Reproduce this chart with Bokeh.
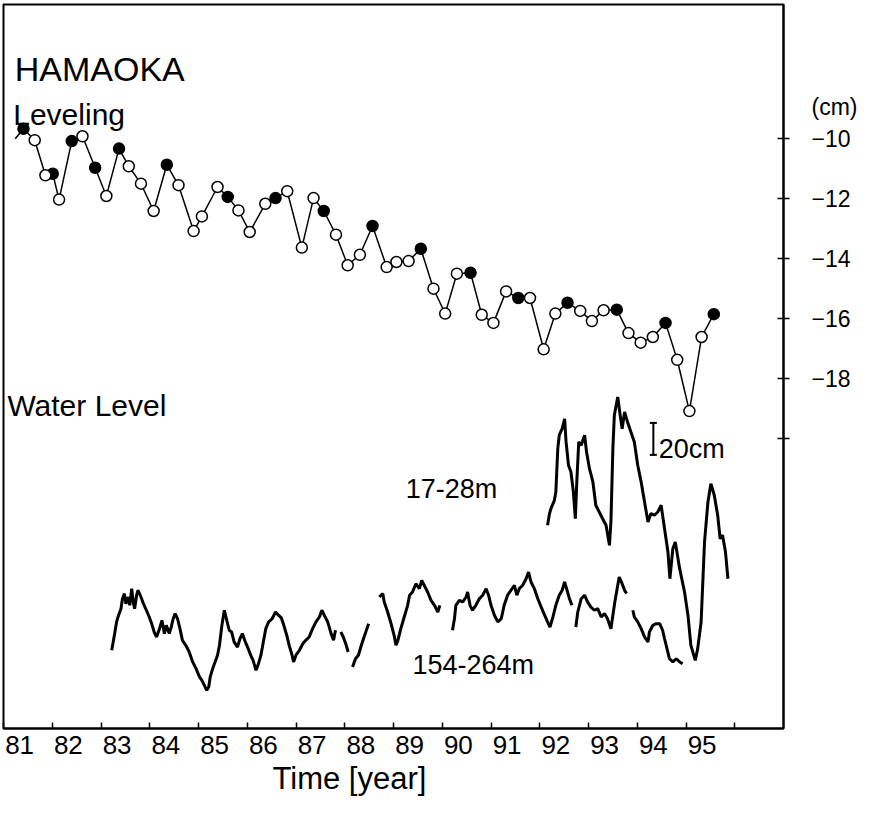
import numpy as np
from bokeh.plotting import figure
from bokeh.models import Range1d, LinearAxis, FixedTicker, Label, Title, CustomJSTickFormatter
from bokeh.embed import file_html
from bokeh.resources import INLINE

# ---------------- data ----------------
year_ticks = list(range(81, 97))          # tick marks (start of each year)
year_labels = list(range(81, 96))         # labelled years
label_shift = 0.33                        # labels sit just right of their tick
cm_ticks = [-10, -12, -14, -16, -18, -20]
cm_tick_text = ["\u221210", "\u221212", "\u221214", "\u221216", "\u221218", ""]
unit_pos = -8.93                          # where "(cm)" sits on the right axis
unit_text = "(cm)"

# Leveling (cm); first entry is the line's lead-in without marker
lev_year = [81.24, 81.41, 81.64, 81.86, 82.01, 82.14, 82.40, 82.62, 82.88, 83.11,
            83.37, 83.57, 83.82, 84.08, 84.35, 84.59, 84.90, 85.07, 85.39, 85.60,
            85.82, 86.05, 86.37, 86.58, 86.82, 87.12, 87.36, 87.57, 87.82, 88.06,
            88.31, 88.57, 88.86, 89.06, 89.31, 89.56, 89.82, 90.06, 90.30, 90.58,
            90.81, 91.05, 91.31, 91.56, 91.80, 92.08, 92.32, 92.57, 92.83, 93.07,
            93.31, 93.58, 93.82, 94.07, 94.32, 94.58, 94.82, 95.07, 95.32, 95.57]
lev_cm = [-9.99, -9.66, -10.04, -11.21, -11.16, -12.02, -10.07, -9.91, -10.96, -11.90,
          -10.32, -10.91, -11.49, -12.40, -10.86, -11.54, -13.07, -12.58, -11.60, -11.93,
          -12.38, -13.10, -12.16, -11.97, -11.74, -13.62, -11.97, -12.40, -13.19, -14.21,
          -13.86, -12.90, -14.27, -14.10, -14.07, -13.66, -14.99, -15.82, -14.49, -14.46,
          -15.86, -16.13, -15.08, -15.30, -15.30, -17.01, -15.82, -15.46, -15.73, -16.07,
          -15.71, -15.69, -16.47, -16.79, -16.60, -16.13, -17.36, -19.07, -16.60, -15.84]
# 0 = lead-in (no marker), 1 = filled circle, 2 = open circle
lev_kind = [0, 1, 2, 2, 1, 2, 1, 2, 1, 2,
            1, 2, 2, 2, 1, 2, 2, 2, 2, 1,
            2, 2, 2, 1, 2, 2, 2, 1, 2, 2,
            2, 1, 2, 2, 2, 1, 2, 2, 2, 1,
            2, 2, 2, 1, 2, 2, 2, 1, 2, 2,
            2, 1, 2, 2, 2, 1, 2, 2, 2, 1]

# Water level, well 154-264m (cm, relative datum); None = gap in record
deep_year = [83.22, 83.25, 83.28, 83.32, 83.36, 83.41, 83.44, 83.48, 83.51, 83.56,
             83.59, 83.63, 83.66, 83.69, 83.73, 83.76, 83.82, 83.87, 83.93, 83.99,
             84.04, 84.09, 84.14, 84.20, 84.25, 84.30, 84.34, 84.40, 84.44, 84.48,
             84.52, 84.57, 84.62, 84.67, 84.74, 84.81, 84.88, 84.95, 85.02, 85.07,
             85.12, 85.17, 85.21, 85.24, 85.29, 85.34, 85.39, 85.43, 85.48, 85.53,
             85.58, 85.63, 85.68, 85.73, 85.80, 85.85, 85.90, 85.96, 86.02, 86.07,
             86.12, 86.18, 86.23, 86.28, 86.33, 86.38, 86.44, 86.51, 86.58, 86.64,
             86.70, 86.75, 86.81, 86.86, 86.92, 86.95, 87.00, 87.07, 87.14, 87.20,
             87.27, 87.34, 87.41, 87.48, 87.53, 87.58, 87.65, 87.72, 87.77, 87.81,
             None,
             87.92, 87.97, 88.02, 88.07,
             None,
             88.16, 88.22, 88.28, 88.35, 88.42, 88.49,
             None,
             88.71, 88.78, 88.81, 88.88, 88.95, 89.02, 89.05, 89.09, 89.15, 89.22,
             89.29, 89.33, 89.39, 89.46, 89.53, 89.58, 89.63, 89.70, 89.77, 89.84,
             89.91, 89.95,
             None,
             90.21, 90.25, 90.28, 90.35, 90.42, 90.49, 90.52, 90.57, 90.62, 90.69,
             90.76, 90.83, 90.90, 90.95, 91.00, 91.07, 91.14, 91.21, 91.27, 91.34,
             91.41, 91.48, 91.53, 91.58, 91.65, 91.72, 91.77, 91.82, 91.89, 91.96,
             92.03, 92.10, 92.16, 92.21, 92.27, 92.33, 92.40, 92.46, 92.51, 92.55,
             92.61, 92.66,
             None,
             92.74, 92.78, 92.85, 92.92, 92.98, 93.05, 93.12, 93.19, 93.26, 93.33,
             93.39, 93.46, 93.50, 93.54, 93.60, 93.63, 93.69, 93.74, 93.78,
             None,
             93.91, 93.94, 94.01, 94.08, 94.15, 94.22, 94.25, 94.32, 94.39, 94.46,
             94.52, 94.56, 94.61, 94.66, 94.73, 94.80, 94.87, 94.93]
deep_level = [48.9, 54.1, 59.3, 66.6, 70.8, 74.9, 81.1, 84.3, 78.0, 82.2,
              77.0, 87.4, 79.1, 74.9, 83.3, 86.4, 82.2, 78.0, 73.9, 69.7,
              65.5, 60.3, 57.2, 62.4, 67.6, 59.3, 64.5, 59.3, 63.4, 68.6,
              71.8, 68.6, 62.4, 55.1, 52.0, 47.8, 41.6, 37.4, 32.2, 30.1,
              27.0, 23.9, 25.9, 32.2, 37.4, 41.6, 45.8, 52.0, 64.5, 73.9,
              67.6, 61.4, 60.3, 54.1, 50.9, 56.1, 59.3, 54.1, 49.9, 45.8,
              42.6, 36.4, 40.5, 45.8, 54.1, 62.4, 66.6, 68.6, 72.8, 70.8,
              69.1, 64.5, 58.3, 52.0, 45.8, 41.6, 45.8, 48.9, 53.0, 55.1,
              57.2, 62.4, 66.6, 69.7, 73.9, 70.8, 66.6, 59.3, 55.1, 61.4,
              None,
              60.3, 57.2, 53.0, 47.8,
              None,
              38.4, 43.6, 45.8, 53.0, 59.3, 65.5,
              None,
              82.2, 84.3, 79.1, 72.8, 65.5, 57.2, 52.0, 55.1, 62.4, 69.7,
              77.0, 83.3, 85.3, 90.5, 87.4, 92.6, 89.5, 85.3, 80.1, 77.0,
              72.8, 77.0,
              None,
              61.4, 68.6, 77.0, 80.1, 79.1, 82.2, 85.3, 77.0, 73.9, 77.0,
              81.1, 83.3, 87.4, 83.3, 77.0, 70.8, 66.6, 68.6, 77.0, 83.3,
              86.4, 89.5, 83.3, 87.4, 89.5, 93.6, 97.8, 91.6, 87.4, 81.1,
              75.9, 70.8, 66.6, 63.4, 69.7, 77.0, 83.3, 86.4, 91.6, 87.4,
              81.1, 77.0,
              None,
              63.4, 72.8, 81.1, 83.3, 79.1, 75.9, 73.9, 74.9, 69.7, 71.8,
              68.6, 62.4, 70.8, 79.1, 89.5, 94.7, 90.5, 86.4, 84.3,
              None,
              73.9, 69.7, 66.6, 62.4, 57.2, 54.1, 60.3, 64.5, 65.5, 65.5,
              61.4, 56.1, 49.9, 43.6, 41.6, 43.6, 41.6, 40.5]

# Water level, well 17-28m (cm, same relative datum)
shallow_year = [92.16, 92.20, 92.23, 92.30, 92.33, 92.37, 92.40, 92.46, 92.51, 92.54,
                92.59, 92.64, 92.69, 92.73, 92.76, 92.80, 92.85, 92.92, 92.96, 93.02,
                93.09, 93.15, 93.22, 93.29, 93.36, 93.43, 93.46, 93.50, 93.53, 93.60,
                93.65, 93.69, 93.74, 93.80, 93.87, 93.94, 94.01, 94.08, 94.15, 94.22,
                94.28, 94.35, 94.42, 94.49, 94.56, 94.63, 94.67, 94.73, 94.78, 94.87,
                94.97, 95.04, 95.10, 95.19, 95.24, 95.31, 95.38, 95.45, 95.51, 95.58,
                95.65, 95.70, 95.75, 95.81, 95.86]
shallow_level = [127.0, 134.3, 137.4, 142.6, 147.8, 174.9, 183.3, 187.4, 193.6, 179.1,
                 164.5, 160.3, 147.8, 131.1, 154.1, 179.1, 177.0, 183.3, 172.8, 162.4,
                 154.1, 139.5, 135.3, 131.1, 127.0, 114.5, 129.1, 174.9, 195.8, 207.2,
                 195.8, 187.4, 197.8, 191.6, 185.3, 179.1, 164.5, 154.1, 141.6, 129.1,
                 134.3, 133.3, 135.3, 139.5, 124.9, 110.3, 93.6, 112.4, 116.6, 99.9,
                 85.3, 70.8, 52.0, 42.6, 49.9, 66.6, 116.6, 141.6, 153.0, 145.8,
                 133.3, 118.6, 120.8, 110.3, 93.6]

# 20 cm scale bar for the water-level records
bar_year = 94.33
bar_base = 171.0
bar_length = 20.0

FONT = "Liberation Sans"

# ---------------- figure ----------------
p = figure(frame_width=780, frame_height=724,
           x_range=Range1d(81, 97), y_range=Range1d(-29.65, -5.517),
           y_axis_location="right", x_axis_location=None,
           output_backend="svg", toolbar_location=None,
           min_border_left=3, min_border_top=4, min_border_right=75, min_border_bottom=79)
p.extra_y_ranges = {"wl": Range1d(0, 452.5)}
p.xgrid.visible = False
p.ygrid.visible = False
p.outline_line_color = "black"
p.outline_line_width = 2
p.background_fill_color = "white"
p.border_fill_color = "white"

# right axis (cm): labels on major ticks, tick marks drawn as minor ticks
ya = p.yaxis[0]
ya.ticker = FixedTicker(ticks=[unit_pos] + cm_ticks, minor_ticks=cm_ticks)
ya.major_label_overrides = {t: s for t, s in zip([unit_pos] + cm_ticks, [unit_text] + cm_tick_text)}
ya.major_tick_line_color = None
ya.major_tick_in = 0
ya.major_tick_out = 6
ya.minor_tick_line_color = "black"
ya.minor_tick_in = 6
ya.minor_tick_out = 6
ya.minor_tick_line_width = 1.5
ya.axis_line_width = 2
ya.major_label_standoff = 22
ya.major_label_text_font = FONT
ya.major_label_text_font_size = "23px"
ya.major_label_text_color = "black"

# bottom axis: year labels just right of each year tick; tick marks as minor ticks
xa = LinearAxis(ticker=FixedTicker(ticks=[y + label_shift for y in year_labels],
                                   minor_ticks=year_ticks),
                formatter=CustomJSTickFormatter(args=dict(shift=label_shift),
                                                code="return String(Math.round(tick - shift))"),
                major_tick_line_color=None, major_tick_in=0, major_tick_out=0,
                minor_tick_line_color="black", minor_tick_in=6, minor_tick_out=0,
                minor_tick_line_width=1.5, axis_line_width=2,
                major_label_standoff=7, major_label_text_font=FONT,
                major_label_text_font_size="26px", major_label_text_color="black")
p.add_layout(xa, "below")

p.add_layout(Title(text="Time [year]", align="left", offset=269, text_font=FONT,
                   text_font_size="31px", text_font_style="normal", text_color="black",
                   standoff=4), "below")

# leveling
p.line(lev_year, lev_cm, line_color="black", line_width=1.5)
fx = [x for x, k in zip(lev_year, lev_kind) if k == 1]
fy = [y for y, k in zip(lev_cm, lev_kind) if k == 1]
ox = [x for x, k in zip(lev_year, lev_kind) if k == 2]
oy = [y for y, k in zip(lev_cm, lev_kind) if k == 2]
p.scatter(fx, fy, size=11, fill_color="black", line_color="black", line_width=1.5)
p.scatter(ox, oy, size=11, fill_color="white", line_color="black", line_width=1.5)

# water levels
p.line(np.array(deep_year, dtype=float), np.array(deep_level, dtype=float),
       y_range_name="wl", line_color="black", line_width=3)
p.line(shallow_year, shallow_level, y_range_name="wl", line_color="black", line_width=3)

# scale bar
p.segment(x0=[bar_year], y0=[bar_base], x1=[bar_year], y1=[bar_base + bar_length],
          y_range_name="wl", line_color="black", line_width=2)
p.scatter([bar_year, bar_year], [bar_base, bar_base + bar_length], marker="dash",
          size=7, y_range_name="wl", line_color="black", line_width=2)

# texts inside the frame
def add_text(x, y, text, size, font=FONT):
    p.add_layout(Label(x=x, y=y, text=text, text_font=font, text_font_size=size,
                       text_color="black", text_align="left", text_baseline="alphabetic"))

add_text(81.23, -7.67, "HAMAOKA", "34px")
add_text(81.20, -9.20, "Leveling", "30px")
add_text(81.08, -18.87, "Water Level", "30px")
add_text(89.25, -21.67, "17-28m", "27px")
add_text(89.39, -27.53, "154-264m", "27px")
add_text(94.44, -20.33, "20cm", "27px")

open("out.html", "w").write(file_html(p, INLINE))
